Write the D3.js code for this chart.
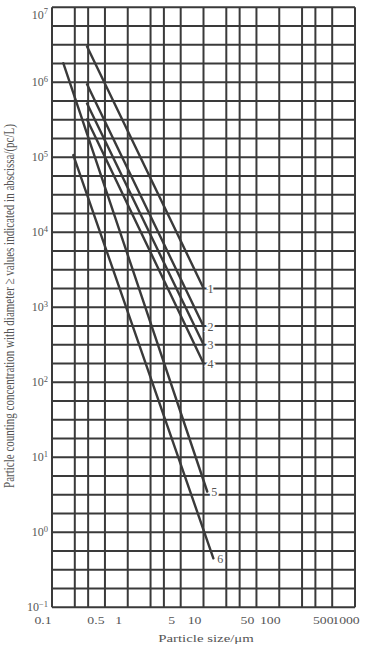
<!DOCTYPE html>
<html>
<head>
<meta charset="utf-8">
<script src="https://cdn.jsdelivr.net/npm/d3@7"></script>
<style>
  html, body { margin: 0; padding: 0; background: #fff; }
  svg { display: block; }
  text { font-family: "Liberation Serif", "DejaVu Serif", serif; fill: #555; }
</style>
</head>
<body>
<svg id="chart" width="370" height="648"></svg>
<script>
// ---- data ----
const xTickValues = [0.1, 0.5, 1, 5, 10, 50, 100, 500, 1000];
const xTickLabels = ["0.1", "0.5", "1", "5", "10", "50", "100", "500", "1000"];
const xGridValues = [0.1, 0.2, 0.3, 0.5, 1, 2, 3, 5, 10, 20, 30, 50, 100, 200, 300, 500, 1000];
const yTickExponents = [7, 6, 5, 4, 3, 2, 1, 0, -1];
const yGridStepsPerDecade = 4;

const seriesNames = ["1", "2", "3", "4", "5", "6"];
const sizeStart = [0.29, 0.29, 0.29, 0.29, 0.141, 0.191];
const sizeEnd   = [10, 10, 10, 10, 11.2, 13.5];
const concStart = [3.0e6, 9.4e5, 5.2e5, 3.2e5, 1.8e6, 1.07e5];
const concEnd   = [1.8e3, 560, 320, 180, 3.5, 0.45];

const xTitle = "Particle size/\u03bcm";
const yTitle = "Particle counting concentration with diameter \u2265 values indicated in abscissa/(pc/L)";

// ---- layout ----
const svg = d3.select("#chart");
const plotLeft = 52, plotRight = 355, plotTop = 7.3, plotBottom = 607.3;
const ink = "#3a3a3a";
const stretch = 1.35;     // the reference's lettering is drawn wide
const tickStretch = 1.25;

const x = d3.scaleLog().domain([0.1, 1000]).range([plotLeft, plotRight]);
const y = d3.scaleLog().domain([0.1, 1e7]).range([plotBottom, plotTop]);

// grid
const yGridValues = d3.range(-1 * yGridStepsPerDecade, 7 * yGridStepsPerDecade + 1)
  .map(k => Math.pow(10, k / yGridStepsPerDecade));

const grid = svg.append("g");
grid.selectAll("line.v").data(xGridValues).join("line").attr("class", "v")
  .attr("x1", d => x(d)).attr("x2", d => x(d))
  .attr("y1", plotTop).attr("y2", plotBottom)
  .attr("stroke", ink).attr("stroke-width", 2);
grid.selectAll("line.h").data(yGridValues).join("line").attr("class", "h")
  .attr("x1", plotLeft).attr("x2", plotRight)
  .attr("y1", d => y(d)).attr("y2", d => y(d))
  .attr("stroke", ink).attr("stroke-width", 2);

// data lines
const rows = seriesNames.map((n, i) => ({
  name: n,
  pts: [[sizeStart[i], concStart[i]], [sizeEnd[i], concEnd[i]]]
}));
const line = d3.line().x(d => x(d[0])).y(d => y(d[1]));
svg.append("g").selectAll("path").data(rows).join("path")
  .attr("d", d => line(d.pts))
  .attr("fill", "none").attr("stroke", ink).attr("stroke-width", 2.4)
  .attr("stroke-linecap", "round");

// series labels
svg.append("g").selectAll("text").data(rows).join("text")
  .attr("x", d => x(d.pts[1][0]) + 4)
  .attr("y", d => y(d.pts[1][1]) + 5)
  .attr("font-size", 12)
  .attr("stroke", "#fff").attr("stroke-width", 4).attr("paint-order", "stroke")
  .text(d => d.name);

// x tick labels
svg.append("g").selectAll("text").data(xTickValues).join("text")
  .attr("transform", d => `translate(${Math.min(x(d) - 9, 353)},623.5) scale(${tickStretch},1)`)
  .attr("text-anchor", "middle")
  .attr("font-size", 11)
  .text((d, i) => xTickLabels[i]);

// y tick labels (10^n)
const yt = svg.append("g").selectAll("text").data(yTickExponents).join("text")
  .attr("x", 48)
  .attr("y", d => Math.max(y(Math.pow(10, d)) + 4, 18.5))
  .attr("text-anchor", "end")
  .attr("font-size", 12);
yt.append("tspan").text("10");
yt.append("tspan").attr("dy", -4.5).attr("font-size", 8.5)
  .text(d => d < 0 ? "\u2212" + (-d) : String(d));

// axis titles
svg.append("text")
  .attr("transform", `translate(206,642) scale(${stretch},1)`)
  .attr("text-anchor", "middle").attr("font-size", 11)
  .text(xTitle);

svg.append("text")
  .attr("transform", `translate(14,306) scale(${stretch},1) rotate(-90)`)
  .attr("text-anchor", "middle").attr("font-size", 11)
  .text(yTitle);
</script>
</body>
</html>
